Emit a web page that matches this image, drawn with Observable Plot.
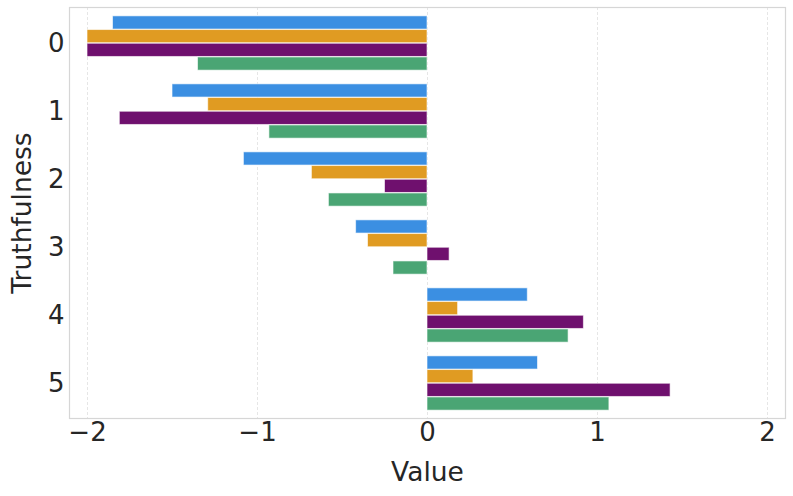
<!DOCTYPE html>
<html>
<head>
<meta charset="utf-8">
<script src="https://cdn.jsdelivr.net/npm/d3@7"></script>
<script src="https://cdn.jsdelivr.net/npm/@observablehq/plot@0.6"></script>
<style>
  html, body { margin: 0; padding: 0; background: #fff; }
  #chart { width: 793px; height: 496px; }
</style>
</head>
<body>
<div id="chart"></div>
<script>
const categories = ["0", "1", "2", "3", "4", "5"];
const seriesNames = ["A", "B", "C", "D"];
const seriesColors = ["#3b8fe2", "#e09b22", "#6f106e", "#4aa574"];
const valuesA = [-1.85, -1.50, -1.08, -0.42, 0.59, 0.65];
const valuesB = [-2.00, -1.29, -0.68, -0.35, 0.18, 0.27];
const valuesC = [-2.00, -1.81, -0.25, 0.13, 0.92, 1.43];
const valuesD = [-1.35, -0.93, -0.58, -0.20, 0.83, 1.07];
const xTicks = [-2, -1, 0, 1, 2];

const allValues = [valuesA, valuesB, valuesC, valuesD];
const data = [];
seriesNames.forEach((s, i) => {
  categories.forEach((c, j) => data.push({category: c, series: s, idx: i, value: allValues[i][j]}));
});

const W = 793, H = 496;
const mt = 7, mb = 78, ml = 69, mr = 8;
const step = (H - mt - mb) / categories.length;
const barH = step * 0.8 / seriesNames.length;
const pad = step * 0.1;

const font = "DejaVu Sans, sans-serif";

const barMarks = seriesNames.map((s, i) =>
  Plot.barX(data.filter(d => d.series === s), {
    x: "value", y: "category",
    fill: "series",
    insetTop: pad + i * barH,
    insetBottom: step - pad - (i + 1) * barH,
    stroke: "white", strokeWidth: 1, strokeOpacity: 0.6
  })
);

const plot = Plot.plot({
  width: W, height: H,
  marginTop: mt, marginBottom: mb, marginLeft: ml, marginRight: mr,
  style: {fontFamily: font, background: "white", color: "#262626"},
  x: {domain: [-2.106, 2.106], ticks: xTicks},
  y: {domain: categories, padding: 0},
  color: {domain: seriesNames, range: seriesColors},
  marks: [
    Plot.ruleX(xTicks, {stroke: "#e6e6e6", strokeWidth: 1, strokeDasharray: "3,2"}),
    ...barMarks,
    Plot.frame({stroke: "#d6d6d6", strokeWidth: 1.2}),
    Plot.axisX({ticks: xTicks, tickSize: 0, tickPadding: 4, fontSize: 26, label: null, tickFormat: d3.format("d"), fill: "#262626"}),
    Plot.axisY({tickSize: 0, tickPadding: 5, fontSize: 26, label: null, fill: "#262626"}),
    Plot.text(["Value"], {frameAnchor: "bottom", lineAnchor: "middle", dy: 54, fontSize: 26.5, fill: "#262626"}),
    Plot.text(["Truthfulness"], {frameAnchor: "left", textAnchor: "middle", lineAnchor: "middle", dx: -47, rotate: -90, fontSize: 26.5, fill: "#262626"})
  ]
});
document.getElementById("chart").appendChild(plot);
</script>
</body>
</html>
